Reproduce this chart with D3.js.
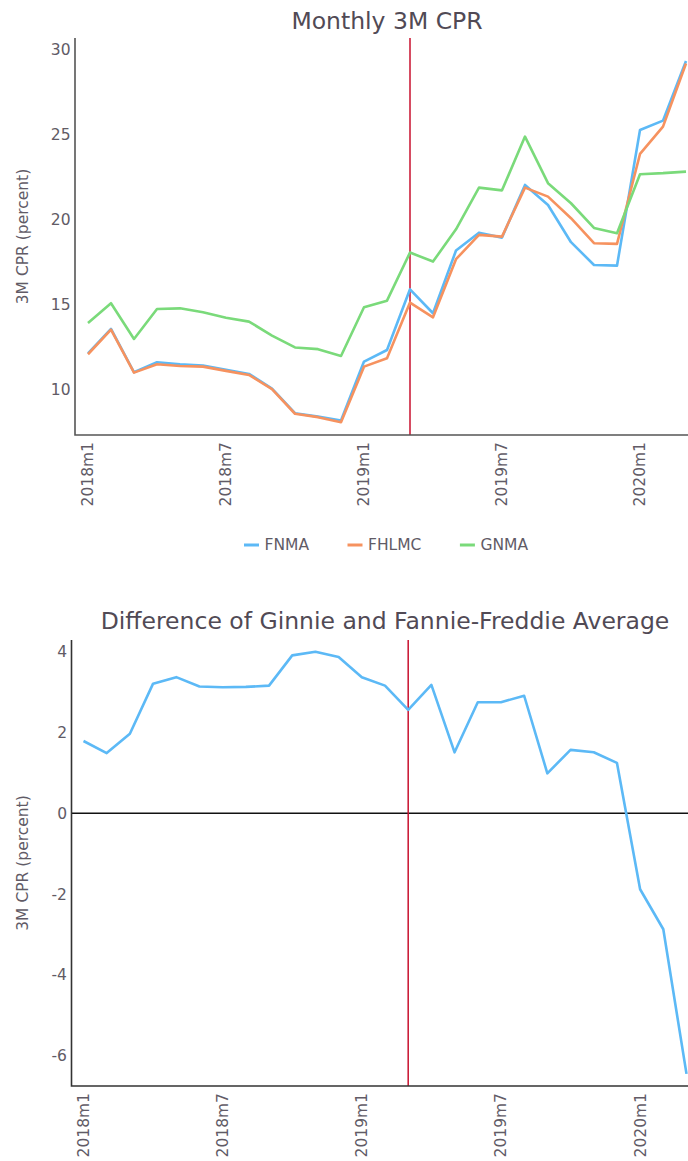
<!DOCTYPE html>
<html>
<head>
<meta charset="utf-8">
<script src="https://cdn.jsdelivr.net/npm/d3@7"></script>
<style>
  body { margin: 0; background: #fff; }
  svg { display: block; font-family: "DejaVu Sans", sans-serif; }
</style>
</head>
<body>
<svg id="chart" width="688" height="1161"></svg>
<script>
// data
const months = [
  "2018m1", "2018m2", "2018m3", "2018m4", "2018m5", "2018m6", "2018m7", "2018m8", "2018m9",
  "2018m10", "2018m11", "2018m12", "2019m1", "2019m2", "2019m3", "2019m4", "2019m5", "2019m6",
  "2019m7", "2019m8", "2019m9", "2019m10", "2019m11", "2019m12", "2020m1", "2020m2", "2020m3",
];
const tickMonths = ["2018m1", "2018m7", "2019m1", "2019m7", "2020m1"];
const markerMonth = "2019m3";

const fnma = [12.15, 13.59, 11.04, 11.63, 11.51, 11.43, 11.18, 10.94, 10.08, 8.63, 8.43, 8.2,
  11.67, 12.35, 15.92, 14.51, 18.2, 19.25, 18.96, 22.06, 20.88, 18.69, 17.35, 17.31, 25.29, 25.84, 29.35];
const fhlmc = [12.1, 13.55, 11.02, 11.51, 11.41, 11.37, 11.12, 10.88, 10.05, 8.6, 8.4, 8.1,
  11.37, 11.86, 15.14, 14.27, 17.69, 19.12, 19.02, 21.9, 21.37, 20.1, 18.63, 18.59, 23.88, 25.49, 29.2];
const gnma = [13.94, 15.1, 13.0, 14.76, 14.8, 14.57, 14.25, 14.02, 13.2, 12.5, 12.4, 12.0,
  14.86, 15.25, 18.08, 17.55, 19.45, 21.9, 21.74, 24.9, 22.16, 20.98, 19.53, 19.22, 22.69, 22.75, 22.84];
const diff = [1.79, 1.49, 1.97, 3.21, 3.37, 3.14, 3.12, 3.13, 3.16, 3.91, 4.0, 3.87,
  3.37, 3.16, 2.56, 3.18, 1.51, 2.75, 2.75, 2.91, 0.99, 1.57, 1.51, 1.25, -1.88, -2.87, -6.45];

const topTicks = [10, 15, 20, 25, 30];
const bottomTicks = [-6, -4, -2, 0, 2, 4];

const series = [
  { name: "FNMA", values: fnma, color: "#5cb9f6" },
  { name: "FHLMC", values: fhlmc, color: "#f6925f" },
  { name: "GNMA", values: gnma, color: "#7ada7a" },
];

const svg = d3.select("#chart");
const W = 688;
const titleColor = "#514a55";
const textColor = "#615b66";
const red = "#c8102e";
const fs = "15.5px";

function panel(opts) {
  const g = svg.append("g");
  const x = d3.scaleLinear().domain([0, months.length - 1]).range(opts.xRange);
  const y = d3.scaleLinear().domain(opts.yDomain).range([opts.bottom, opts.top]);

  g.append("text")
    .attr("x", opts.titleX).attr("y", opts.titleY)
    .attr("text-anchor", "middle")
    .attr("fill", titleColor)
    .style("font-size", "23.5px")
    .text(opts.title);

  // y ticks
  const yAxis = d3.axisLeft(y).tickValues(opts.yTicks).tickSize(0).tickPadding(4.5)
    .tickFormat((d) => String(d));
  g.append("g")
    .attr("transform", `translate(${opts.left},0)`)
    .call(yAxis)
    .call((s) => s.select(".domain").remove())
    .call((s) => s.selectAll("text").attr("fill", textColor).style("font-size", fs)
      .style("font-family", "DejaVu Sans, sans-serif"));

  // x ticks (rotated)
  g.append("g").selectAll("text")
    .data(tickMonths)
    .join("text")
    .attr("transform", (d) => `translate(${x(months.indexOf(d))},${opts.bottom + 7}) rotate(-90)`)
    .attr("text-anchor", "end")
    .attr("dy", "0.35em")
    .attr("fill", textColor)
    .style("font-size", fs)
    .text((d) => d);

  g.append("text")
    .attr("transform", `translate(27.5,${(opts.top + opts.bottom) / 2}) rotate(-90)`)
    .attr("text-anchor", "middle")
    .attr("fill", textColor)
    .style("font-size", fs)
    .text("3M CPR (percent)");

  if (opts.zero) {
    g.append("line")
      .attr("x1", opts.left).attr("x2", W)
      .attr("y1", y(0)).attr("y2", y(0))
      .attr("stroke", "#111").attr("stroke-width", 1.5);
  }

  const mx = x(months.indexOf(markerMonth));
  g.append("line")
    .attr("x1", mx).attr("x2", mx)
    .attr("y1", opts.top).attr("y2", opts.bottom)
    .attr("stroke", red).attr("stroke-width", 1.5);

  const line = d3.line().x((d, i) => x(i)).y((d) => y(d));
  opts.series.forEach((s) => {
    g.append("path")
      .attr("d", line(s.values))
      .attr("fill", "none")
      .attr("stroke", s.color)
      .attr("stroke-width", 2.6)
      .attr("stroke-linejoin", "round");
  });

  // axis lines
  g.append("path")
    .attr("d", `M${opts.left},${opts.top}V${opts.bottom}H${W}`)
    .attr("fill", "none")
    .attr("stroke", opts.axisColor)
    .attr("stroke-width", 1.6);

  return { x, y };
}

panel({
  title: "Monthly 3M CPR", titleX: 387, titleY: 29,
  left: 75, top: 38, bottom: 435, xRange: [88, 686],
  yDomain: [7.35, 30.7], yTicks: topTicks,
  series: series, axisColor: "#555", zero: false,
});

panel({
  title: "Difference of Ginnie and Fannie-Freddie Average", titleX: 385, titleY: 629,
  left: 71.5, top: 640, bottom: 1086, xRange: [83.5, 686.5],
  yDomain: [-6.75, 4.29], yTicks: bottomTicks,
  series: [{ name: "diff", values: diff, color: "#5cb9f6" }], axisColor: "#333", zero: true,
});

// legend
const legend = svg.append("g").attr("transform", "translate(0,545)");
let lx = 0;
const items = legend.selectAll("g.item").data(series).join("g").attr("class", "item");
items.append("line")
  .attr("x1", 0).attr("x2", 15).attr("y1", 0).attr("y2", 0)
  .attr("stroke", (d) => d.color).attr("stroke-width", 3);
items.append("text")
  .attr("x", 20.5).attr("dy", "0.35em")
  .attr("fill", textColor)
  .style("font-size", fs)
  .text((d) => d.name);
items.each(function () {
  const w = 20.5 + d3.select(this).select("text").node().getComputedTextLength();
  d3.select(this).attr("transform", `translate(${lx},0)`);
  lx += w + 38.5;
});
const total = lx - 38.5;
legend.attr("transform", `translate(${386 - total / 2},545)`);
</script>
</body>
</html>
